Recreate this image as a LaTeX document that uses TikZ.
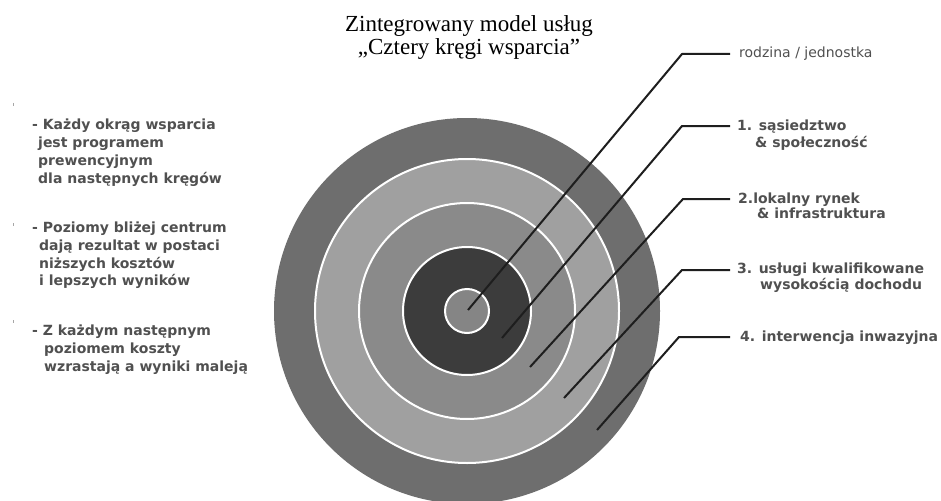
\documentclass[tikz,border=0pt]{standalone}
\usepackage{fontspec}
\setmainfont{Liberation Serif}
\newfontfamily\vfont{DejaVu Sans}
\definecolor{ringA}{HTML}{6E6E6E}
\definecolor{ringB}{HTML}{A0A0A0}
\definecolor{ringC}{HTML}{8A8A8A}
\definecolor{ringD}{HTML}{3C3C3C}
\definecolor{ringE}{HTML}{858585}
\definecolor{txt}{HTML}{505050}
\definecolor{lead}{HTML}{1E1E1E}
\begin{document}
\begin{tikzpicture}[x=1pt,y=-1pt,
  sep/.style={draw=white,line width=2pt},
  bold/.style={font=\vfont\bfseries\fontsize{14}{17}\selectfont,text=txt,anchor=base west,inner sep=0pt},
  plain/.style={font=\vfont\fontsize{14}{17}\selectfont,text=txt,anchor=base west,inner sep=0pt},
  ttl/.style={font=\fontsize{23}{27}\selectfont,text=black,anchor=base,inner sep=0pt},
  leader/.style={draw=lead,line width=2pt,line join=round},
  tick/.style={draw=black!35,line width=1pt}]
\useasboundingbox (0,0) rectangle (941,500);
\clip (0,0) rectangle (941,500);
\fill[white] (0,0) rectangle (941,500);
% title
\node[ttl] (t1) at (469,32) {Zintegrowany model usług};
\node[ttl] (t2) at (469,55) {„Cztery kręgi wsparcia”};
% target
\coordinate (O) at (467,311);
\fill[ringA] (O) circle (193pt);
\filldraw[ringB,sep] (O) circle (152pt);
\filldraw[ringC,sep] (O) circle (108pt);
\filldraw[ringD,sep] (O) circle (64pt);
\filldraw[ringE,sep] (O) circle (22pt);
% left text
\draw[tick] (13,103) -- (13,106);
\draw[tick] (13,223) -- (13,226);
\draw[tick] (13,320) -- (13,323);
\node[bold] (a1) at (32,129) {- Każdy okrąg wsparcia};
\node[bold] (a2) at (38,147) {jest programem};
\node[bold] (a3) at (38,165) {prewencyjnym};
\node[bold] (a4) at (38,183) {dla następnych kręgów};
\node[bold] (b1) at (32,232) {- Poziomy bliżej centrum};
\node[bold] (b2) at (39,250) {dają rezultat w postaci};
\node[bold] (b3) at (39,268) {niższych kosztów};
\node[bold] (b4) at (39,285) {i lepszych wyników};
\node[bold] (d1) at (32,335) {- Z każdym następnym};
\node[bold] (d2) at (44,353) {poziomem koszty};
\node[bold] (d3) at (44,371) {wzrastają a wyniki maleją};
% right labels
\node[plain] (r0) at (739,58) {rodzina / jednostka};
\node[bold] (r1a) at (737,130) {1. sąsiedztwo};
\node[bold] (r1b) at (755,147) {\& społeczność};
\node[bold] (r2a) at (738,203) {2.lokalny rynek};
\node[bold] (r2b) at (757,218) {\& infrastruktura};
\node[bold] (r3a) at (737,273) {3. usługi kwalifikowane};
\node[bold] (r3b) at (760,289) {wysokością dochodu};
\node[bold] (r4a) at (740,341) {4. interwencja inwazyjna};
% leaders
\coordinate (c0) at (468,310);
\coordinate (k0) at (682,54);
\coordinate (h0) at (730,54);
\coordinate (c1) at (502,338);
\coordinate (k1) at (682,126);
\coordinate (h1) at (730,126);
\coordinate (c2) at (530,367);
\coordinate (k2) at (683,199);
\coordinate (h2) at (730,199);
\coordinate (c3) at (564,398);
\coordinate (k3) at (682,270);
\coordinate (h3) at (730,270);
\coordinate (c4) at (597,430);
\coordinate (k4) at (679,337);
\coordinate (h4) at (730,337);
\draw[leader] (c0) -- (k0) -- (h0);
\draw[leader] (c1) -- (k1) -- (h1);
\draw[leader] (c2) -- (k2) -- (h2);
\draw[leader] (c3) -- (k3) -- (h3);
\draw[leader] (c4) -- (k4) -- (h4);
\end{tikzpicture}
\end{document}
